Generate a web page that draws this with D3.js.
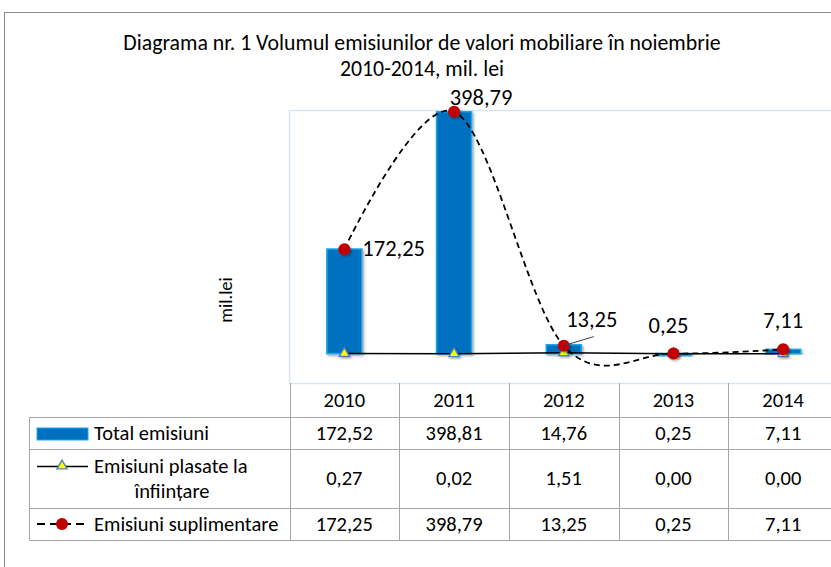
<!DOCTYPE html>
<html>
<head>
<meta charset="utf-8">
<script src="https://cdn.jsdelivr.net/npm/d3@7"></script>
<style>
  body { margin: 0; background: #fff; }
  svg { display: block; font-family: Carlito, Lato, sans-serif; }
</style>
</head>
<body>
<svg id="chart" width="831" height="567"></svg>
<script>
// data
var years = ['2010', '2011', '2012', '2013', '2014'];
var totalEmisiuni = [172.52, 398.81, 14.76, 0.25, 7.11];
var emisiuniPlasate = [0.27, 0.02, 1.51, 0.00, 0.00];
var emisiuniSuplimentare = [172.25, 398.79, 13.25, 0.25, 7.11];
var seriesNames = ['Total emisiuni', 'Emisiuni plasate la', 'înființare', 'Emisiuni suplimentare'];
var titleLines = ['Diagrama nr. 1 Volumul emisiunilor de valori mobiliare în noiembrie', '2010-2014, mil. lei'];
var yDomain = [-50, 400];

var ro = d3.formatLocale({decimal: ',', thousands: ' ', grouping: [3], currency: ['', '']});
var fmt = ro.format('.2f');

var svg = d3.select('#chart');

var x = d3.scaleBand().domain(years).range([289.5, 838]);
var y = d3.scaleLinear().domain(yDomain).range([384, 111]);
var barW = 35;

// outer frame
svg.append('rect')
  .attr('x', 4.5).attr('y', 12.5)
  .attr('width', 900).attr('height', 700)
  .attr('fill', 'none').attr('stroke', '#8c8c8c');

// title
svg.selectAll('text.title').data(titleLines).enter().append('text')
  .attr('class', 'title')
  .attr('x', 422).attr('y', function(d, i) { return 49.5 + i * 26.5; })
  .attr('text-anchor', 'middle')
  .attr('font-size', 21.8)
  .attr('fill', '#000')
  .text(function(d) { return d; });

// axis title
svg.append('text')
  .attr('transform', 'translate(232,300) rotate(-90)')
  .attr('text-anchor', 'middle')
  .attr('font-size', 18.5)
  .text('mil.lei');

// plot area
svg.append('rect')
  .attr('x', 289.5).attr('y', 110.5)
  .attr('width', 600).attr('height', 273)
  .attr('fill', 'none').attr('stroke', '#dce6f2').attr('stroke-width', 1.5);

var defs = svg.append('defs');
var shadow = defs.append('filter').attr('id', 'shadow')
  .attr('x', '-30%').attr('y', '-30%').attr('width', '160%').attr('height', '160%');
shadow.append('feDropShadow')
  .attr('dx', 1.5).attr('dy', 1.5).attr('stdDeviation', 1.2)
  .attr('flood-color', '#000').attr('flood-opacity', 0.35);

var cx = function(d, i) { return x(years[i]) + x.bandwidth() / 2; };

// bars
svg.append('g').selectAll('rect').data(totalEmisiuni).enter().append('rect')
  .attr('x', function(d, i) { return cx(d, i) - barW / 2; })
  .attr('y', function(d) { return y(d); })
  .attr('width', barW)
  .attr('height', function(d) { return Math.max(y(0) - y(d), 2); })
  .attr('fill', '#0070c0')
  .attr('stroke', '#1ea7e8').attr('stroke-width', 1.5)
  .attr('filter', 'url(#shadow)');

// emisiuni plasate: straight line + triangles
var lineStraight = d3.line()
  .x(function(d, i) { return cx(d, i); })
  .y(function(d) { return y(d); });

svg.append('path').datum(emisiuniPlasate)
  .attr('d', lineStraight)
  .attr('fill', 'none').attr('stroke', '#000').attr('stroke-width', 1.5);

var tri = d3.symbol().type(d3.symbolTriangle).size(45);
svg.append('g').selectAll('path').data(emisiuniPlasate).enter().append('path')
  .attr('d', tri)
  .attr('transform', function(d, i) { return 'translate(' + cx(d, i) + ',' + y(d) + ')'; })
  .attr('fill', '#ffff00').attr('stroke', '#4f81bd').attr('stroke-width', 1.3)
  .attr('filter', 'url(#shadow)');

// emisiuni suplimentare: smooth dashed line + red dots
var lineSmooth = d3.line()
  .x(function(d, i) { return cx(d, i); })
  .y(function(d) { return y(d); })
  .curve(d3.curveCatmullRom.alpha(0));

svg.append('path').datum(emisiuniSuplimentare)
  .attr('d', lineSmooth)
  .attr('fill', 'none').attr('stroke', '#000').attr('stroke-width', 1.8)
  .attr('stroke-dasharray', '6,4');

svg.append('g').selectAll('circle').data(emisiuniSuplimentare).enter().append('circle')
  .attr('cx', cx)
  .attr('cy', function(d) { return y(d); })
  .attr('r', 6)
  .attr('fill', '#c00000')
  .attr('filter', 'url(#shadow)');

// data labels
var labelPos = [
  {dx: 18, dy: 7, anchor: 'start'},
  {dx: 27, dy: -7, anchor: 'middle'},
  {dx: 28, dy: -19, anchor: 'middle'},
  {dx: -5, dy: -21, anchor: 'middle'},
  {dx: 0, dy: -21, anchor: 'middle'}
];
// leader line for 2012 label
svg.append('line')
  .attr('x1', cx(null, 2)).attr('y1', y(emisiuniSuplimentare[2]))
  .attr('x2', cx(null, 2) + 30).attr('y2', y(emisiuniSuplimentare[2]) - 9)
  .attr('stroke', '#404040').attr('stroke-width', 1);

svg.append('g').selectAll('text').data(emisiuniSuplimentare).enter().append('text')
  .attr('x', function(d, i) { return cx(d, i) + labelPos[i].dx; })
  .attr('y', function(d, i) { return y(d) + labelPos[i].dy; })
  .attr('text-anchor', function(d, i) { return labelPos[i].anchor; })
  .attr('font-size', 22.5)
  .text(function(d) { return fmt(d); });

// data table
var tableLeft = 29.5, tableRight = 831;
var rowLines = [417.5, 449.5, 508.5, 540.5];
var grid = svg.append('g').attr('stroke', '#a6a6a6').attr('stroke-width', 1);

grid.selectAll('line.h').data(rowLines).enter().append('line')
  .attr('x1', tableLeft).attr('x2', tableRight)
  .attr('y1', function(d) { return d; }).attr('y2', function(d) { return d; });

grid.append('line')
  .attr('x1', tableLeft).attr('x2', tableLeft)
  .attr('y1', rowLines[0]).attr('y2', rowLines[3]);

var colEdges = years.map(function(d) { return Math.round(x(d)) + 0.5; });
grid.selectAll('line.v').data(colEdges).enter().append('line')
  .attr('x1', function(d) { return d; }).attr('x2', function(d) { return d; })
  .attr('y1', 383).attr('y2', rowLines[3]);

var tableFont = 20.5;

// year header
svg.append('g').selectAll('text').data(years).enter().append('text')
  .attr('x', cx).attr('y', 407)
  .attr('text-anchor', 'middle').attr('font-size', tableFont)
  .text(function(d) { return d; });

var rows = [
  {vals: totalEmisiuni, yText: 440},
  {vals: emisiuniPlasate, yText: 485},
  {vals: emisiuniSuplimentare, yText: 531}
];
rows.forEach(function(r) {
  svg.append('g').selectAll('text').data(r.vals).enter().append('text')
    .attr('x', cx).attr('y', r.yText)
    .attr('text-anchor', 'middle').attr('font-size', tableFont)
    .text(function(d) { return fmt(d); });
});

// legend keys inside the table
svg.append('rect')
  .attr('x', 37).attr('y', 428).attr('width', 51).attr('height', 12)
  .attr('fill', '#0070c0').attr('stroke', '#1ea7e8').attr('stroke-width', 1);
svg.append('text').attr('x', 94).attr('y', 440).attr('font-size', tableFont).text(seriesNames[0]);

svg.append('line')
  .attr('x1', 37).attr('x2', 88).attr('y1', 466.5).attr('y2', 466.5)
  .attr('stroke', '#000').attr('stroke-width', 1.3);
svg.append('path')
  .attr('d', tri)
  .attr('transform', 'translate(62,466)')
  .attr('fill', '#ffff00').attr('stroke', '#4f81bd').attr('stroke-width', 1.3);
svg.append('text').attr('x', 94).attr('y', 473).attr('font-size', tableFont).text(seriesNames[1]);
svg.append('text').attr('x', 172).attr('y', 498).attr('text-anchor', 'middle').attr('font-size', tableFont).text(seriesNames[2]);

svg.append('line')
  .attr('x1', 37).attr('x2', 88).attr('y1', 524).attr('y2', 524)
  .attr('stroke', '#000').attr('stroke-width', 1.8).attr('stroke-dasharray', '8,5');
svg.append('circle')
  .attr('cx', 62).attr('cy', 524).attr('r', 6).attr('fill', '#c00000');
svg.append('text').attr('x', 94).attr('y', 531).attr('font-size', tableFont).text(seriesNames[3]);
</script>
</body>
</html>
